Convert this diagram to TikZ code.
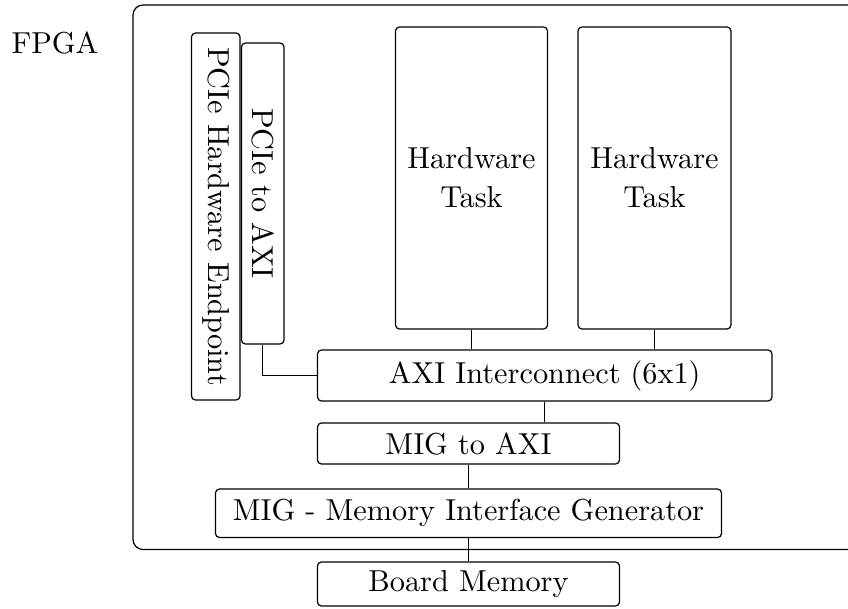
\documentclass[tikz,border=0pt]{standalone}
\usepackage{graphicx}
\def\PX{0.33pt}
\begin{document}
\begin{tikzpicture}[x=0.33pt,y=-0.33pt,
  blk/.style={draw, rounded corners=1.3pt, inner sep=0pt, align=center,
    font=\fontsize{10}{12.9}\selectfont},
  wire/.style={draw, line width=0.4pt}]
\clip (0,0) rectangle (848,609);
\useasboundingbox (0,0) rectangle (848,609);
% FPGA container
\node[draw, rounded corners=3.3pt, inner sep=0pt,
  minimum width=730*\PX, minimum height=544.5*\PX] (fpga) at (498,277.25) {};
\node[inner sep=0pt] (fpgalbl) at (55,42.7) {FPGA};
% blocks
\node[blk, minimum width=48.5*\PX, minimum height=367*\PX] (ep) at (215.75,216.5)
  {\rotatebox{-90}{PCIe Hardware Endpoint}};
\node[blk, minimum width=42.5*\PX, minimum height=301*\PX] (pta) at (262.75,193.5)
  {\rotatebox{-90}{PCIe to AXI}};
\node[blk, minimum width=152*\PX, minimum height=302*\PX] (hw1) at (471.5,178)
  {Hardware\\Task};
\node[blk, minimum width=153*\PX, minimum height=302*\PX] (hw2) at (654.5,178)
  {Hardware\\Task};
\node[blk, minimum width=454.5*\PX, minimum height=51*\PX] (axi) at (544.75,375.5)
  {AXI Interconnect (6x1)};
\node[blk, minimum width=302*\PX, minimum height=41*\PX] (m2a) at (468.5,443.5)
  {MIG to AXI};
\node[blk, minimum width=506*\PX, minimum height=48.5*\PX] (mig) at (468.5,513.25)
  {MIG - Memory Interface Generator};
\node[blk, minimum width=302*\PX, minimum height=44*\PX] (mem) at (468.5,584)
  {Board Memory};
% connectors
\draw[wire] (pta.south) |- (axi.west);
\draw[wire] (hw1.south) -- (hw1.south |- axi.north);
\draw[wire] (hw2.south) -- (hw2.south |- axi.north);
\draw[wire] (axi.south) -- (axi.south |- m2a.north);
\draw[wire] (m2a.south) -- (mig.north);
\draw[wire] (mig.south) -- (mem.north);
\end{tikzpicture}
\end{document}
